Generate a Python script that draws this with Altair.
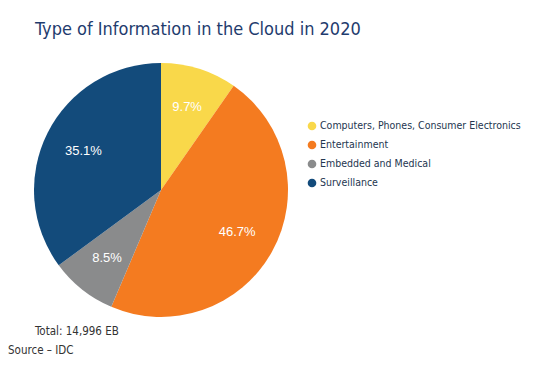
import altair as alt
import pandas as pd

cats = ["Computers, Phones, Consumer Electronics", "Entertainment", "Embedded and Medical", "Surveillance"]
shares = [9.7, 46.7, 8.5, 35.1]
colors = ["#F9D84A", "#F47B20", "#8A8B8C", "#134B7B"]
title_text = "Type of Information in the Cloud in 2020"
total_text = "Total: 14,996 EB"
source_text = "Source \u2013 IDC"

df = pd.DataFrame({
    "cat": cats,
    "share": shares,
    "order": list(range(len(cats))),
    "label": [f"{v}%" for v in shares],
})

COND = "DejaVu Sans Condensed, sans-serif"
CX, CY, R = 153, 182, 127

base = alt.Chart(df)
color = alt.Color("cat:N", scale=alt.Scale(domain=cats, range=colors), legend=None)

pie = base.mark_arc(radius=R, strokeWidth=0).encode(
    theta=alt.Theta("share:Q", stack=True),
    order=alt.Order("order:Q"),
    color=color,
    x=alt.value(CX), y=alt.value(CY),
)

labels = base.mark_text(radius=87, fontSize=13, font="Liberation Sans", color="white").encode(
    theta=alt.Theta("share:Q", stack=True),
    order=alt.Order("order:Q"),
    text="label:N",
    x=alt.value(CX), y=alt.value(CY),
)

ys = alt.Y("order:Q", scale=alt.Scale(domain=[0, 3], range=[118, 175]), axis=None)
leg_dots = base.mark_circle(size=75, opacity=1).encode(
    x=alt.value(304), y=ys, color=color,
)
leg_text = base.mark_text(align="left", baseline="middle", fontSize=10.5, font=COND, color="#243650").encode(
    x=alt.value(312), y=ys, text="cat:N",
)

title = alt.Chart(pd.DataFrame({"t": [title_text]})).mark_text(
    align="left", baseline="alphabetic", fontSize=18, font=COND, color="#1F3C6E"
).encode(x=alt.value(27), y=alt.value(27), text="t:N")

notes = alt.Chart(pd.DataFrame({"t": [total_text, source_text], "x": [27, 0], "y": [324, 343]})).mark_text(
    align="left", baseline="middle", fontSize=11.5, font=COND, color="#333333"
).encode(x=alt.X("x:Q", scale=None), y=alt.Y("y:Q", scale=None), text="t:N")

chart = alt.layer(pie, labels, leg_dots, leg_text, title, notes).properties(
    width=518, height=355, autosize="none", padding=0
).configure_view(stroke=None)

chart.save("out.html", embed_options={"renderer": "svg", "actions": False})
